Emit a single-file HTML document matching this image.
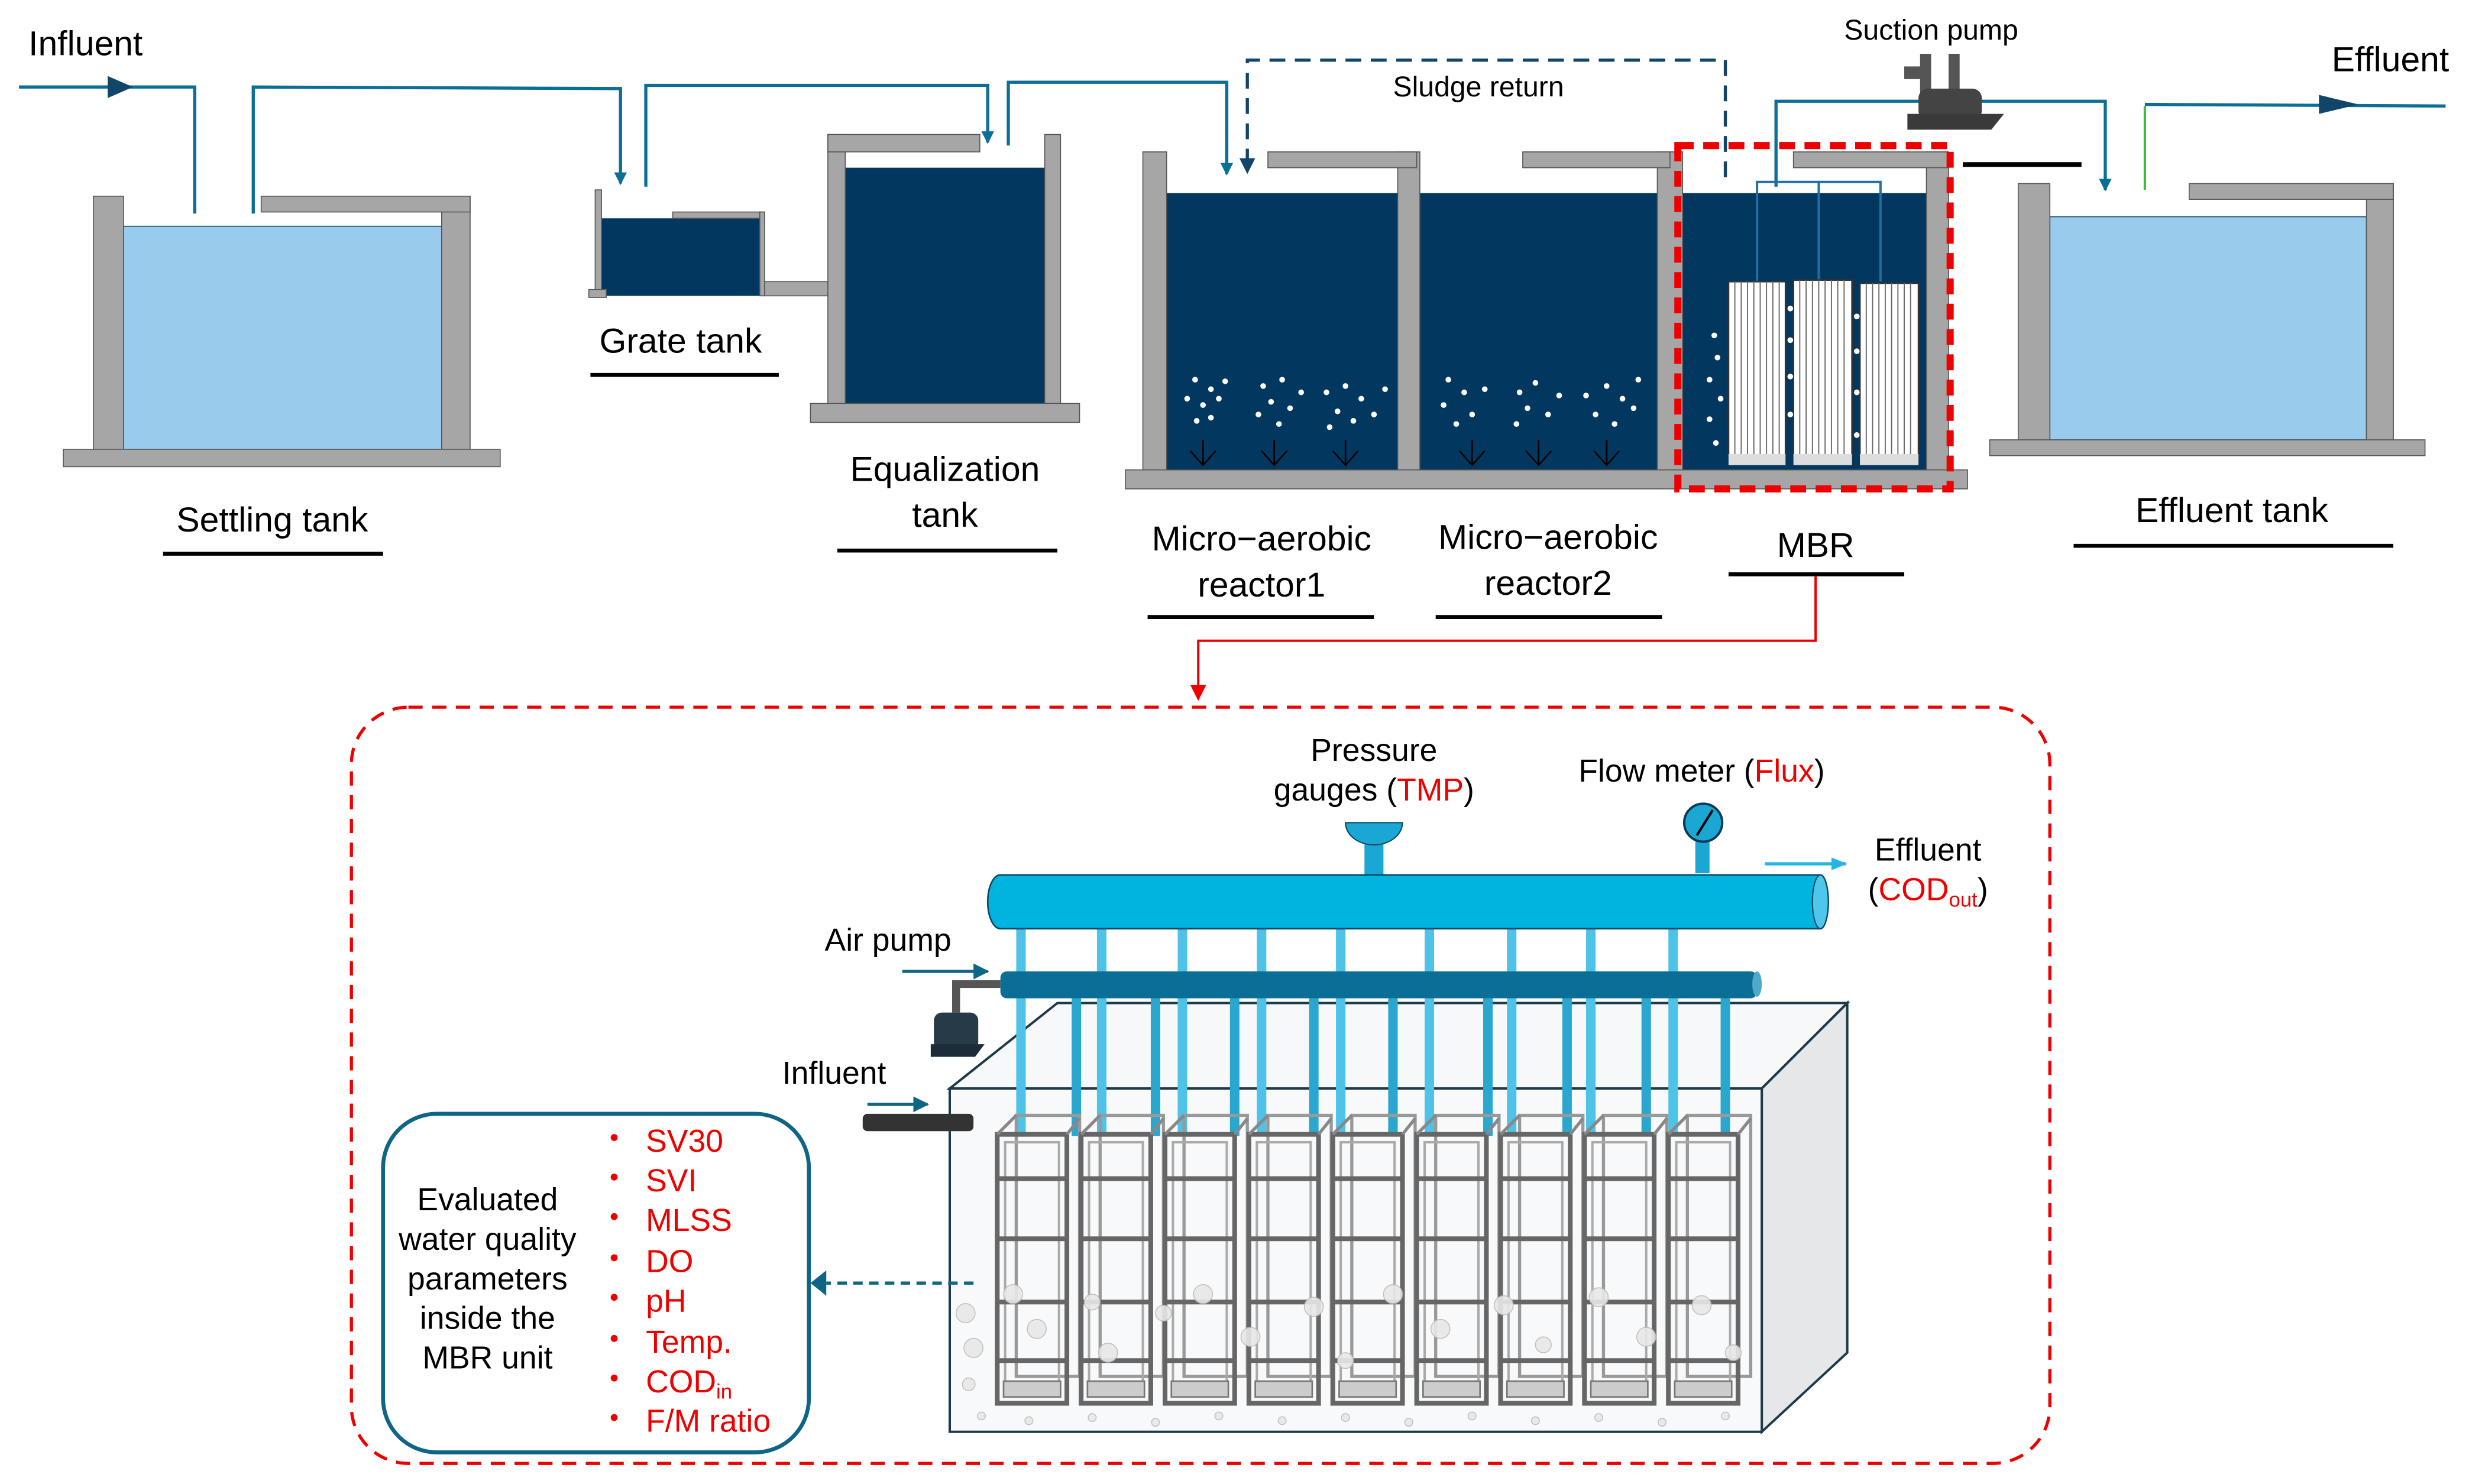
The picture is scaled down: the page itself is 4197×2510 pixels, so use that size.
<!DOCTYPE html>
<html><head><meta charset="utf-8"><style>
html,body{margin:0;padding:0;background:#fff;}
svg{display:block;}
text{font-family:"Liberation Sans Narrow","Liberation Sans",sans-serif;fill:#000;}
text.r{fill:#e00;}
</style></head><body>
<svg width="4197" height="2510" viewBox="0 0 1568 938" preserveAspectRatio="none" xmlns="http://www.w3.org/2000/svg">
<defs>
<marker id="ab" markerWidth="8" markerHeight="8" refX="7" refY="4" orient="auto" markerUnits="userSpaceOnUse"><path d="M0,0 L8,4 L0,8z" fill="#0B6E94"/></marker>
<marker id="ad" markerWidth="10" markerHeight="10" refX="9" refY="5" orient="auto" markerUnits="userSpaceOnUse"><path d="M0,0 L10,5 L0,10z" fill="#11466A"/></marker>
<marker id="ar" markerWidth="10" markerHeight="10" refX="9" refY="5" orient="auto" markerUnits="userSpaceOnUse"><path d="M0,0 L10,5 L0,10z" fill="#e00"/></marker>
<marker id="ac" markerWidth="10" markerHeight="10" refX="9" refY="5" orient="auto" markerUnits="userSpaceOnUse"><path d="M0,1 L10,5 L0,9z" fill="#22B5E6"/></marker>
<marker id="an" markerWidth="10" markerHeight="10" refX="9" refY="5" orient="auto" markerUnits="userSpaceOnUse"><path d="M0,0 L10,5 L0,10z" fill="#0E6585"/></marker>
<g id="mod">
  <rect x="12" y="0" width="40" height="165" fill="none" stroke="#999" stroke-width="2"/>
  <rect x="0" y="12" width="44" height="170" fill="none" stroke="#666" stroke-width="3"/>
  <rect x="5" y="17" width="34" height="160" fill="none" stroke="#aaa" stroke-width="1.5"/>
  <line x1="0" y1="40" x2="44" y2="40" stroke="#666" stroke-width="3"/>
  <line x1="0" y1="78" x2="44" y2="78" stroke="#666" stroke-width="3"/>
  <line x1="0" y1="118" x2="44" y2="118" stroke="#666" stroke-width="3"/>
  <line x1="0" y1="155" x2="44" y2="155" stroke="#666" stroke-width="3"/>
  <line x1="44" y1="12" x2="52" y2="2" stroke="#888" stroke-width="2"/>
  <line x1="0" y1="12" x2="12" y2="0" stroke="#888" stroke-width="2"/>
  <rect x="4" y="168" width="36" height="10" fill="#ccc" stroke="#777"/>
</g>
</defs>

<text x="18" y="35" font-size="22">Influent</text>
<text x="1473" y="45" font-size="22">Effluent</text>
<text x="1165" y="25" font-size="18">Suction pump</text>
<text x="880" y="61" font-size="18">Sludge return</text>

<g fill="none" stroke="#0B6E94" stroke-width="2">
<polyline points="12,55 123,55 123,135"/>
<polyline points="160,135 160,55 392,56 392,116" marker-end="url(#ab)"/>
<polyline points="408,118 408,54 624,54 624,90" marker-end="url(#ab)"/>
<polyline points="637,92 637,52 775,52 775,110" marker-end="url(#ab)"/>
<polyline points="1122,118 1122,64 1330,64 1330,120" marker-end="url(#ab)"/>
<polyline points="1355,66 1545,67"/>
</g>
<line x1="1355" y1="120" x2="1355" y2="67" stroke="#3DBB3D" stroke-width="1.5"/>
<path d="M68,48 L84,55 L68,62z" fill="#11466A"/>
<path d="M1465,60 L1490,66 L1465,72z" fill="#11466A"/>
<polyline points="1090,112 1090,38 788,38 788,109" fill="none" stroke="#11466A" stroke-width="2" stroke-dasharray="10,6" marker-end="url(#ad)"/>

<rect x="1203" y="42" width="14" height="8" fill="#555"/>
<rect x="1213" y="34" width="7" height="26" fill="#555"/>
<rect x="1231" y="34" width="7" height="26" fill="#555"/>
<rect x="1212" y="56" width="40" height="20" rx="6" fill="#444"/>
<path d="M1205,72 L1266,72 L1258,82 L1205,82z" fill="#3a3a3a"/>
<line x1="1240" y1="104" x2="1315" y2="104" stroke="#000" stroke-width="3"/>

<g fill="#A6A6A6" stroke="#555" stroke-width="0.6">
<rect x="78" y="143" width="201" height="141" fill="#99CBEC" stroke="#0a4a66"/>
<rect x="59" y="124" width="19" height="162"/>
<rect x="279" y="124" width="18" height="162"/>
<rect x="165" y="124" width="132" height="10"/>
<rect x="40" y="284" width="276" height="11"/>
<rect x="380" y="138" width="100" height="49" fill="#02385F" stroke="none"/>
<rect x="376" y="120" width="4" height="67"/>
<rect x="425" y="134" width="58" height="4"/>
<rect x="480" y="134" width="3" height="53"/>
<rect x="372" y="183" width="11" height="5"/>
<rect x="483" y="178" width="41" height="9"/>
<rect x="534" y="106" width="126" height="149" fill="#02385F" stroke="none"/>
<rect x="523" y="85" width="11" height="175"/>
<rect x="660" y="85" width="10" height="175"/>
<rect x="523" y="85" width="96" height="11"/>
<rect x="512" y="255" width="170" height="12"/>
<rect x="737" y="122" width="480" height="175" fill="#02385F" stroke="none"/>
<rect x="722" y="96" width="15" height="204"/>
<rect x="883" y="96" width="14" height="204"/>
<rect x="1047" y="96" width="16" height="204"/>
<rect x="1217" y="96" width="14" height="204"/>
<rect x="801" y="96" width="94" height="10"/>
<rect x="962" y="96" width="93" height="10"/>
<rect x="1133" y="96" width="98" height="10"/>
<rect x="711" y="297" width="532" height="12"/>
<rect x="1295" y="137" width="200" height="141" fill="#99CBEC" stroke="#0a4a66"/>
<rect x="1275" y="116" width="20" height="167"/>
<rect x="1495" y="116" width="17" height="167"/>
<rect x="1383" y="116" width="129" height="10"/>
<rect x="1257" y="278" width="275" height="10"/>
</g>

<g fill="#fff">
<circle cx="755" cy="240" r="1.8"/><circle cx="765" cy="246" r="1.8"/><circle cx="750" cy="252" r="1.8"/><circle cx="760" cy="256" r="1.8"/><circle cx="770" cy="252" r="1.8"/><circle cx="756" cy="266" r="1.8"/><circle cx="765" cy="264" r="1.8"/><circle cx="774" cy="241" r="1.8"/>
<circle cx="798" cy="244" r="1.8"/><circle cx="810" cy="240" r="1.8"/><circle cx="803" cy="254" r="1.8"/><circle cx="815" cy="258" r="1.8"/><circle cx="795" cy="262" r="1.8"/><circle cx="808" cy="268" r="1.8"/><circle cx="822" cy="248" r="1.8"/>
<circle cx="838" cy="248" r="1.8"/><circle cx="850" cy="244" r="1.8"/><circle cx="860" cy="252" r="1.8"/><circle cx="845" cy="260" r="1.8"/><circle cx="855" cy="266" r="1.8"/><circle cx="868" cy="262" r="1.8"/><circle cx="875" cy="246" r="1.8"/><circle cx="840" cy="270" r="1.8"/>
<circle cx="915" cy="240" r="1.8"/><circle cx="925" cy="248" r="1.8"/><circle cx="912" cy="256" r="1.8"/><circle cx="930" cy="262" r="1.8"/><circle cx="920" cy="268" r="1.8"/><circle cx="938" cy="246" r="1.8"/>
<circle cx="960" cy="248" r="1.8"/><circle cx="970" cy="242" r="1.8"/><circle cx="965" cy="258" r="1.8"/><circle cx="978" cy="262" r="1.8"/><circle cx="958" cy="268" r="1.8"/><circle cx="985" cy="250" r="1.8"/>
<circle cx="1002" cy="250" r="1.8"/><circle cx="1015" cy="244" r="1.8"/><circle cx="1025" cy="252" r="1.8"/><circle cx="1008" cy="262" r="1.8"/><circle cx="1020" cy="268" r="1.8"/><circle cx="1032" cy="258" r="1.8"/><circle cx="1035" cy="240" r="1.8"/>
<circle cx="1083" cy="212" r="1.8"/><circle cx="1085" cy="226" r="1.8"/><circle cx="1080" cy="240" r="1.8"/><circle cx="1087" cy="252" r="1.8"/><circle cx="1080" cy="265" r="1.8"/><circle cx="1084" cy="280" r="1.8"/>
</g>
<g stroke="#000" stroke-width="1" fill="none">
<path d="M760,278 V294 M752,285 L760,294 L768,285"/>
<path d="M805,278 V294 M797,285 L805,294 L813,285"/>
<path d="M850,278 V294 M842,285 L850,294 L858,285"/>
<path d="M930,278 V294 M922,285 L930,294 L938,285"/>
<path d="M972,278 V294 M964,285 L972,294 L980,285"/>
<path d="M1015,278 V294 M1007,285 L1015,294 L1023,285"/>
</g>

<g fill="none" stroke="#1F6FA8" stroke-width="1.5">
<polyline points="1110,178 1110,115 1188,115 1188,178"/>
<line x1="1149" y1="115" x2="1149" y2="178"/>
</g>
<g>
<rect x="1092" y="178" width="36" height="110" fill="#fff" stroke="#333"/>
<rect x="1133" y="177" width="37" height="111" fill="#fff" stroke="#333"/>
<rect x="1175" y="179" width="37" height="109" fill="#fff" stroke="#333"/>
<g stroke="#666" stroke-width="0.7">
<path d="M1096,178V288M1100,178V288M1104,178V288M1108,178V288M1112,178V288M1116,178V288M1120,178V288M1124,178V288"/>
<path d="M1137,177V288M1141,177V288M1145,177V288M1149,177V288M1153,177V288M1157,177V288M1161,177V288M1165,177V288"/>
<path d="M1179,179V288M1183,179V288M1187,179V288M1191,179V288M1195,179V288M1199,179V288M1203,179V288M1207,179V288"/>
</g>
<rect x="1092" y="287" width="36" height="7" fill="#ddd"/><rect x="1133" y="287" width="37" height="7" fill="#ddd"/><rect x="1175" y="287" width="37" height="7" fill="#ddd"/>
<g fill="#fff"><circle cx="1131" cy="195" r="1.8"/><circle cx="1131" cy="215" r="1.8"/><circle cx="1131" cy="238" r="1.8"/><circle cx="1131" cy="262" r="1.8"/><circle cx="1173" cy="200" r="1.8"/><circle cx="1173" cy="222" r="1.8"/><circle cx="1173" cy="248" r="1.8"/><circle cx="1173" cy="275" r="1.8"/></g>
</g>
<rect x="1060" y="92" width="172" height="217" fill="none" stroke="#e00" stroke-width="4.5" stroke-dasharray="10,6"/>

<g font-size="22" text-anchor="middle">
<text x="172" y="336">Settling tank</text>
<text x="430" y="223">Grate tank</text>
<text x="597" y="304">Equalization</text>
<text x="597" y="333">tank</text>
<text x="797" y="348">Micro−aerobic</text>
<text x="797" y="377">reactor1</text>
<text x="978" y="347">Micro−aerobic</text>
<text x="978" y="376">reactor2</text>
<text x="1147" y="352">MBR</text>
<text x="1410" y="330">Effluent tank</text>
</g>
<g stroke="#000" stroke-width="2.5">
<line x1="103" y1="350" x2="242" y2="350"/><line x1="373" y1="237" x2="492" y2="237"/>
<line x1="529" y1="348" x2="668" y2="348"/><line x1="725" y1="390" x2="868" y2="390"/>
<line x1="907" y1="390" x2="1050" y2="390"/><line x1="1092" y1="363" x2="1203" y2="363"/>
<line x1="1310" y1="345" x2="1512" y2="345"/>
</g>
<polyline points="1147,364 1147,405 757,405 757,442" fill="none" stroke="#e00" stroke-width="1.5" marker-end="url(#ar)"/>

<rect x="222" y="447" width="1073" height="478" rx="36" fill="none" stroke="#e00" stroke-width="2" stroke-dasharray="9,6"/>

<g font-size="20" text-anchor="middle">
<text x="868" y="481">Pressure</text>
<text x="868" y="506">gauges (<tspan fill="#e00">TMP</tspan>)</text>
<text x="1075" y="494">Flow meter (<tspan fill="#e00">Flux</tspan>)</text>
<text x="1218" y="544">Effluent</text>
<text x="1218" y="569">(<tspan fill="#e00">COD<tspan font-size="13" dy="4">out</tspan></tspan><tspan dy="-4">)</tspan></text>
<text x="561" y="601">Air pump</text>
<text x="527" y="685">Influent</text>
</g>

<path d="M600,688 L668,634 L1167,634 L1113,688z" fill="#f7f8f9" stroke="#1d3a4a" stroke-width="1.5"/>
<path d="M1113,688 L1167,634 L1167,855 L1113,905z" fill="#e6e7e9" stroke="#1d3a4a" stroke-width="1.5"/>
<rect x="600" y="688" width="513" height="217" fill="#f8f9fa" stroke="#1d3a4a" stroke-width="1.5"/>

<g stroke="#4FC2E8" stroke-width="6">
<path d="M645,587V718M696,587V718M747,587V718M797,587V718M847,587V718M903,587V718M955,587V718M1005,587V718M1057,587V718"/>
</g>
<g stroke="#2AA7CF" stroke-width="6">
<path d="M680,628V718M730,628V718M780,628V718M830,628V718M880,628V718M940,628V718M990,628V718M1040,628V718M1090,628V718"/>
</g>

<use href="#mod" x="630" y="705"/><use href="#mod" x="683" y="705"/><use href="#mod" x="736" y="705"/>
<use href="#mod" x="789" y="705"/><use href="#mod" x="842" y="705"/><use href="#mod" x="895" y="705"/>
<use href="#mod" x="948" y="705"/><use href="#mod" x="1001" y="705"/><use href="#mod" x="1054" y="705"/>

<g fill="#e8e8e8" stroke="#bbb" stroke-width="0.6" opacity="0.9">
<circle cx="610" cy="830" r="6"/><circle cx="615" cy="852" r="6"/><circle cx="612" cy="875" r="4"/><circle cx="640" cy="818" r="6"/><circle cx="655" cy="840" r="6"/><circle cx="690" cy="823" r="5"/><circle cx="700" cy="855" r="6"/><circle cx="735" cy="830" r="5"/><circle cx="760" cy="818" r="6"/><circle cx="790" cy="845" r="6"/><circle cx="830" cy="826" r="6"/><circle cx="850" cy="860" r="5"/><circle cx="880" cy="818" r="6"/><circle cx="910" cy="840" r="6"/><circle cx="950" cy="825" r="6"/><circle cx="975" cy="850" r="5"/><circle cx="1010" cy="820" r="6"/><circle cx="1040" cy="845" r="6"/><circle cx="1075" cy="825" r="6"/><circle cx="1095" cy="855" r="5"/>
<circle cx="620" cy="895" r="2.5"/><circle cx="650" cy="898" r="2.5"/><circle cx="690" cy="896" r="2.5"/><circle cx="730" cy="899" r="2.5"/><circle cx="770" cy="895" r="2.5"/><circle cx="810" cy="898" r="2.5"/><circle cx="850" cy="896" r="2.5"/><circle cx="890" cy="899" r="2.5"/><circle cx="930" cy="895" r="2.5"/><circle cx="970" cy="898" r="2.5"/><circle cx="1010" cy="896" r="2.5"/><circle cx="1050" cy="899" r="2.5"/><circle cx="1090" cy="895" r="2.5"/>
</g>

<rect x="862" y="526" width="12" height="30" fill="#1AA7D4"/>
<path d="M850,520 A18,14 0 0 0 886,520z" fill="#1AA7D4" stroke="#0a4a66" stroke-width="0.8"/>
<rect x="1071" y="528" width="9" height="24" fill="#1AA7D4"/>
<circle cx="1076" cy="520" r="12" fill="#1AA7D4" stroke="#0a3a55" stroke-width="1.5"/>
<line x1="1072" y1="528" x2="1082" y2="512" stroke="#000" stroke-width="1.5"/>
<path d="M632,553 L1150,553 A5,17 0 0 1 1150,587 L632,587 A8,17 0 0 1 632,553z" fill="#00B4E0" stroke="#0a4a66" stroke-width="1"/>
<ellipse cx="1150" cy="570" rx="5" ry="17" fill="#4FC7EC" stroke="#0a4a66" stroke-width="0.8"/>
<line x1="1115" y1="546" x2="1166" y2="546" stroke="#22B5E6" stroke-width="2" marker-end="url(#ac)"/>

<rect x="632" y="614" width="478" height="17" rx="4" fill="#0A6E96"/>
<ellipse cx="1110" cy="622" rx="3" ry="8" fill="#4FA9C8"/>
<line x1="570" y1="614" x2="624" y2="614" stroke="#0E6585" stroke-width="2" marker-end="url(#an)"/>
<path d="M604,640 L604,622 L632,622" fill="none" stroke="#555" stroke-width="5"/>
<rect x="590" y="640" width="28" height="24" rx="5" fill="#263A48"/>
<path d="M588,660 L622,660 L616,668 L588,668z" fill="#1c2c38"/>

<line x1="548" y1="698" x2="586" y2="698" stroke="#0E6585" stroke-width="2" marker-end="url(#an)"/>
<rect x="545" y="704" width="70" height="11" rx="3" fill="#333"/>

<rect x="242" y="704" width="269" height="214" rx="34" fill="#fff" stroke="#0E6585" stroke-width="2.5"/>
<line x1="615" y1="811" x2="522" y2="811" stroke="#0E6585" stroke-width="2" stroke-dasharray="6,4"/>
<path d="M512,811 L522,803 L522,819z" fill="#0E6585"/>
<g font-size="20" text-anchor="middle">
<text x="308" y="765">Evaluated</text>
<text x="308" y="790">water quality</text>
<text x="308" y="815">parameters</text>
<text x="308" y="840">inside the</text>
<text x="308" y="865">MBR unit</text>
</g>
<g fill="#e00"><circle cx="388" cy="719" r="2.2"/><circle cx="388" cy="744" r="2.2"/><circle cx="388" cy="769" r="2.2"/><circle cx="388" cy="795" r="2.2"/><circle cx="388" cy="820" r="2.2"/><circle cx="388" cy="846" r="2.2"/><circle cx="388" cy="871" r="2.2"/><circle cx="388" cy="896" r="2.2"/></g>
<g font-size="20">
<text class="r" x="408" y="728" style="fill:#e00">SV30</text>
<text class="r" x="408" y="753" style="fill:#e00">SVI</text>
<text class="r" x="408" y="778" style="fill:#e00">MLSS</text>
<text class="r" x="408" y="804" style="fill:#e00">DO</text>
<text class="r" x="408" y="829" style="fill:#e00">pH</text>
<text class="r" x="408" y="855" style="fill:#e00">Temp.</text>
<text class="r" x="408" y="880" style="fill:#e00">COD<tspan font-size="13" dy="4">in</tspan></text>
<text class="r" x="408" y="905" style="fill:#e00">F/M ratio</text>
</g>
</svg>
</body></html>
